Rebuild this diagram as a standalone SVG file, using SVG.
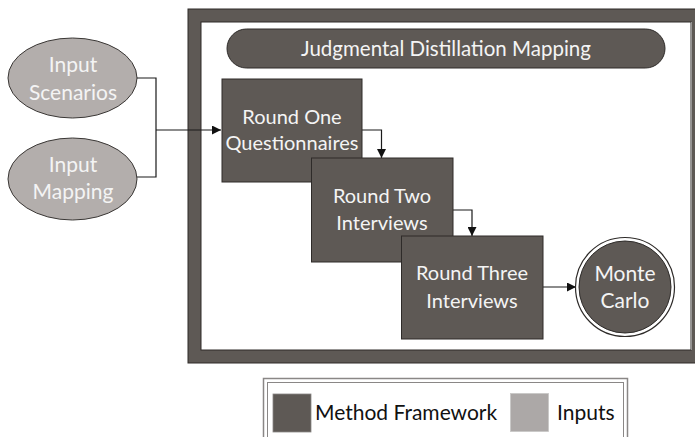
<svg xmlns="http://www.w3.org/2000/svg" width="695" height="437" viewBox="0 0 695 437">
<style>
.dark{fill:#5e5955;stroke:#2e2b29;stroke-width:1}
.light{fill:#b3aeac;stroke:#3a3735;stroke-width:1}
.t{font-family:Lato,"Open Sans",sans-serif;font-size:20px;fill:#f4f4f4;text-anchor:middle}
.lg{font-family:Lato,"Open Sans",sans-serif;font-size:21px;fill:#111;}
.conn{fill:none;stroke:#1a1a1a;stroke-width:1.2}
</style>
<defs>
<marker id="arr" viewBox="0 0 10 10" refX="10" refY="5" markerWidth="9" markerHeight="9" markerUnits="userSpaceOnUse" orient="auto">
<path d="M0,0 L10,5 L0,10 z" fill="#111"/>
</marker>
</defs>
<rect width="695" height="437" fill="#ffffff"/>
<g id="frame">
<rect x="194.5" y="15.5" width="504" height="341" fill="#ffffff" stroke="#5e5955" stroke-width="13"/>
<rect x="188" y="9" width="520" height="354" fill="none" stroke="#2e2b29" stroke-width="1"/>
<rect x="201" y="22" width="490" height="328" fill="none" stroke="#2e2b29" stroke-width="1"/>
</g>
<g id="title">
<rect x="227" y="29" width="438" height="39" rx="19.5" class="dark"/>
<text x="446" y="55.5" class="t" style="font-size:20.5px">Judgmental Distillation Mapping</text>
</g>
<g id="input-scenarios">
<ellipse cx="72.5" cy="78" rx="64.5" ry="40" class="light"/>
<text x="73" y="72" class="t" style="font-size:21px">Input</text>
<text x="73" y="100" class="t" style="font-size:21px">Scenarios</text>
</g>
<g id="input-mapping">
<ellipse cx="72.5" cy="179" rx="64.5" ry="41" class="light"/>
<text x="73" y="172" class="t" style="font-size:21px">Input</text>
<text x="73" y="199" class="t" style="font-size:21px">Mapping</text>
</g>
<g id="connectors">
<path class="conn" d="M137,78 H156 V177 H137"/>
<path class="conn" d="M156,130 H221" marker-end="url(#arr)"/>
<path class="conn" d="M362,130 H381.5 V158" marker-end="url(#arr)"/>
<path class="conn" d="M453,210 H472 V236" marker-end="url(#arr)"/>
<path class="conn" d="M543,287 H576" marker-end="url(#arr)"/>
</g>
<g id="round-one">
<rect x="222" y="79" width="140" height="103" class="dark"/>
<text x="292" y="124" class="t">Round One</text>
<text x="292" y="150" class="t">Questionnaires</text>
</g>
<g id="round-two">
<rect x="311.5" y="158" width="141.5" height="104" class="dark"/>
<text x="382" y="203" class="t">Round Two</text>
<text x="382" y="230" class="t">Interviews</text>
</g>
<g id="round-three">
<rect x="401.5" y="236" width="141.5" height="103" class="dark"/>
<text x="472" y="280" class="t">Round Three</text>
<text x="472" y="308" class="t">Interviews</text>
</g>
<g id="monte-carlo">
<circle cx="625" cy="287" r="49.5" fill="#ffffff" stroke="#2e2b29" stroke-width="1.2"/>
<circle cx="625" cy="287" r="46" class="dark" stroke-width="1.2"/>
<text x="625" y="281" class="t" style="font-size:21px">Monte</text>
<text x="625" y="308" class="t" style="font-size:21px">Carlo</text>
</g>
<g id="legend">
<rect x="263.5" y="378.5" width="364" height="70" fill="#ffffff" stroke="#8a8786" stroke-width="1.5"/>
<rect x="267.5" y="382.5" width="356" height="62" fill="none" stroke="#8a8786" stroke-width="1"/>
<rect x="273" y="394" width="38" height="38" fill="#5e5955" stroke="#8a8786" stroke-width="0.8"/>
<text x="315" y="420" class="lg">Method Framework</text>
<rect x="510.5" y="393.5" width="38" height="38" fill="#aca8a7" stroke="#c8c6c5" stroke-width="0.8"/>
<text x="557" y="420" class="lg">Inputs</text>
</g>
</svg>
